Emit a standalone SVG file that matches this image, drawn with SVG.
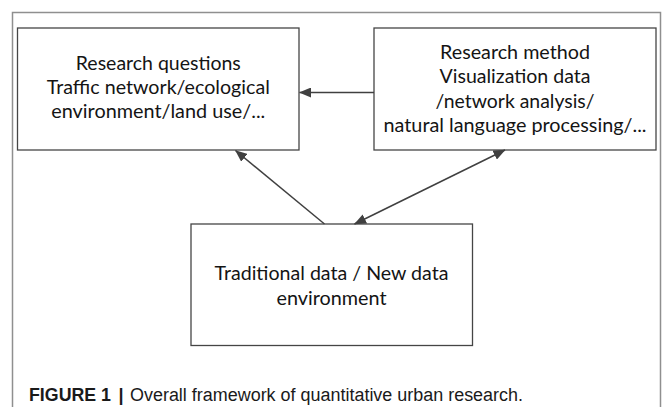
<svg xmlns="http://www.w3.org/2000/svg" width="663" height="407" viewBox="0 0 663 407">
  <style>
    .frame { fill: none; stroke: #8f8f8f; stroke-width: 1.5; }
    .box { fill: #ffffff; stroke: #454545; stroke-width: 1.3; }
    .label { font-family: Lato, "Open Sans", "Liberation Sans", sans-serif; font-size: 19.5px; fill: #141414; text-anchor: middle; }
    .edge { fill: none; stroke: #404040; stroke-width: 1.5; }
    .caption { font-family: "Liberation Sans", Arial, sans-serif; font-size: 18px; fill: #1a1a1a; }
  </style>
  <defs>
    <marker id="head" viewBox="0 0 12 10" refX="11.5" refY="5" markerWidth="12" markerHeight="10" markerUnits="userSpaceOnUse" orient="auto-start-reverse">
      <path d="M0,0 L12,5 L0,10 z" fill="#404040"/>
    </marker>
  </defs>

  <rect width="663" height="407" fill="#ffffff"/>

  <!-- outer figure frame, open at the bottom -->
  <path class="frame" d="M12.5,407 V12.5 H660.5 V407"/>

  <g id="research-questions">
    <rect class="box" x="17.5" y="28" width="281.5" height="122"/>
    <text class="label" x="158.3" y="70" textLength="165" lengthAdjust="spacingAndGlyphs">Research questions</text>
    <text class="label" x="158.3" y="94" textLength="223" lengthAdjust="spacingAndGlyphs">Traffic network/ecological</text>
    <text class="label" x="158.3" y="118" textLength="214" lengthAdjust="spacingAndGlyphs">environment/land use/...</text>
  </g>

  <g id="research-method">
    <rect class="box" x="374" y="28" width="282" height="122"/>
    <text class="label" x="515" y="58.5" textLength="150" lengthAdjust="spacingAndGlyphs">Research method</text>
    <text class="label" x="515" y="83" textLength="151" lengthAdjust="spacingAndGlyphs">Visualization data</text>
    <text class="label" x="515" y="107.5" textLength="159" lengthAdjust="spacingAndGlyphs">/network analysis/</text>
    <text class="label" x="515" y="132" textLength="263" lengthAdjust="spacingAndGlyphs">natural language processing/...</text>
  </g>

  <g id="data-environment">
    <rect class="box" x="191" y="224" width="281.5" height="121.5"/>
    <text class="label" x="331.5" y="280" textLength="234" lengthAdjust="spacingAndGlyphs">Traditional data / New data</text>
    <text class="label" x="331.5" y="304.5" textLength="110" lengthAdjust="spacingAndGlyphs">environment</text>
  </g>

  <g id="connectors">
    <path class="edge" d="M374,92.5 L299.5,92.5" marker-end="url(#head)"/>
    <path class="edge" d="M324.5,224 L235.5,150.5" marker-end="url(#head)"/>
    <path class="edge" d="M354.5,224 L505,150" marker-start="url(#head)" marker-end="url(#head)"/>
  </g>

  <!-- figure caption -->
  <text class="caption" x="29" y="400.5" font-weight="bold" textLength="82" lengthAdjust="spacingAndGlyphs">FIGURE 1</text>
  <text class="caption" x="118.5" y="400.5" font-weight="bold">|</text>
  <text class="caption" x="130" y="400.5" textLength="393" lengthAdjust="spacingAndGlyphs">Overall framework of quantitative urban research.</text>
</svg>
